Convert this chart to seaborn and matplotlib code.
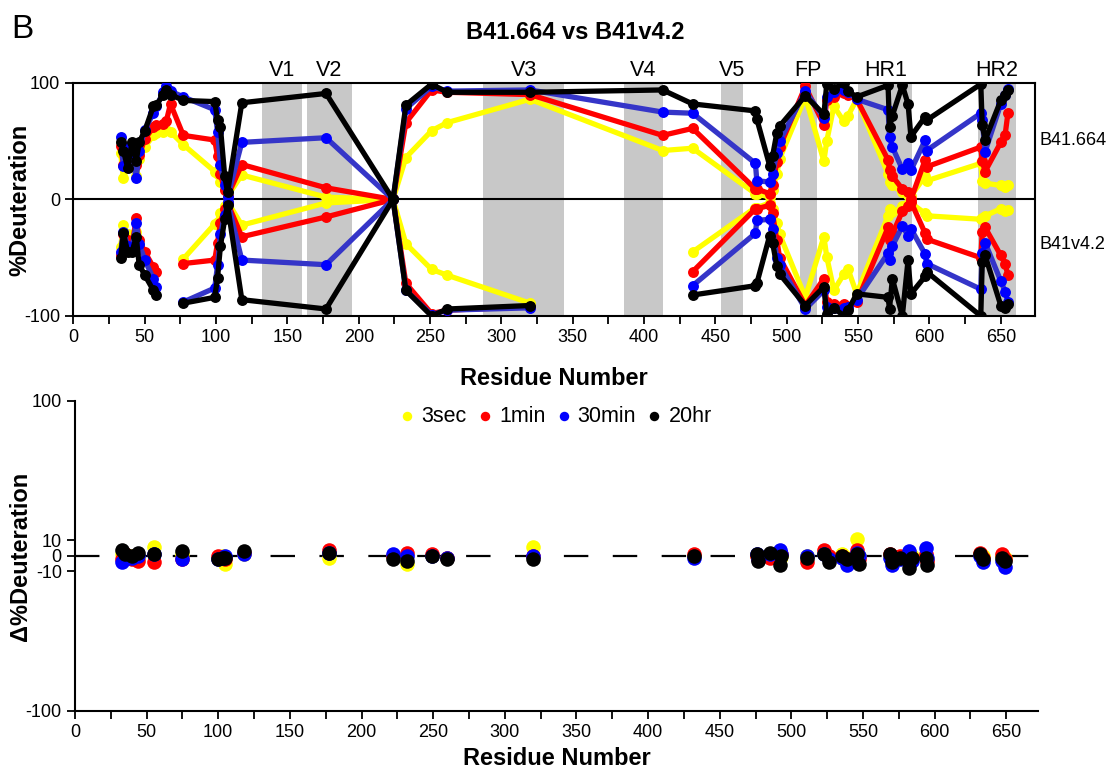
import numpy as np
import pandas as pd
import matplotlib.pyplot as plt
import seaborn as sns

# residue numbers (peptide midpoints) for the butterfly plot
res = [33, 35, 38, 41, 44, 46, 50, 56, 58, 63, 65, 68, 77, 99, 101, 103, 106, 108, 118, 177,
       224, 233, 251, 262, 320, 413, 434, 478, 479, 488, 490, 493, 495, 513, 526, 528, 533, 540,
       543, 549, 571, 572, 574, 581, 585, 587, 597, 598, 636, 637, 639, 650, 653, 655]
nan = np.nan

# B41.664 (upper half)
up_3sec = [40, 18, 30, 36, 20, 35, 45, 55, 57, 58, 60, 58, 47, 24, 22, 15, 8, 3, 21, 2,
           0, 36, 59, 66, 86, 42, 44, 5, 5, 2, 8, 22, 35, 88, 33, 50, 80, 67,
           72, 86, 22, 15, 12, 6, 4, 3, 20, 16, 31, 16, 14, 12, 11, 12]
up_1min = [46, 30, 42, 40, 30, 38, 52, 62, 64, 65, 67, 82, 55, 51, 37, 22, 8, 3, 30, 10,
           0, 66, 94, 92, 90, 55, 61, 9, 9, 5, 12, 32, 45, 97, 64, 85, 88, 91,
           90, 86, 34, 25, 20, 9, 6, 0, 34, 28, 45, 33, 24, 49, 55, 74]
up_30min = [54, 29, 45, 40, 18, 42, 60, 74, 80, 92, 97, 93, 88, 77, 58, 30, 12, 2, 49, 53,
            0, 78, 97, 93, 94, 75, 74, 31, 16, 15, 22, 40, 50, 93, 70, 88, 92, 94,
            92, 86, 77, 54, 45, 26, 31, 25, 51, 42, 74, 68, 41, 82, 90, 95]
up_20hr = [49, 42, 27, 49, 33, 49, 59, 80, 81, 90, 94, 90, 85, 84, 68, 62, 20, 6, 83, 91,
           0, 81, 99, 92, 92, 94, 82, 76, 69, 29, 37, 57, 63, 89, 73, 99, 95, 100,
           93, 88, 98, 62, 72, 98, 82, 54, 71, 68, 99, 64, 51, 85, 90, 94]

# B41v4.2 (lower half)
lo_3sec = [-41, -22, -30, -35, -28, -38, nan, nan, nan, nan, nan, nan, -51, -21, -19, -12, -6, -2, -22, -3,
           0, -38, -60, -65, -89, nan, -45, -7, -7, -3, -8, -20, -30, -84, -32, -49, -78, -64,
           -60, -81, -14, -8, -11, -6, -4, -3, -12, -14, -17, -16, -14, -8, -10, -9]
lo_1min = [-48, -30, -35, -40, -16, -35, -45, -58, -62, nan, nan, nan, -55, -52, -37, -20, -8, -3, -32, -15,
           0, -72, -98, -95, -92, nan, -62, -8, -8, -5, -12, -35, -50, -91, -68, -88, -90, -90,
           -92, -88, -24, -35, -30, -10, -6, -2, -29, -34, -50, -28, -24, -48, -55, -65]
lo_30min = [-45, -28, -40, -42, -20, -38, -52, -68, -75, nan, nan, nan, -88, -76, -56, -30, -13, -2, -52, -56,
            0, -78, -99, -95, -93, nan, -74, -29, -18, -17, -25, -50, -56, -94, -78, -92, -93, -93,
            -92, -86, -46, -52, -40, -23, -31, -25, -47, -55, -77, -46, -37, -70, -79, -88]
lo_20hr = [-50, -29, -45, -45, -32, -56, -65, -78, -82, nan, nan, nan, -89, -84, -67, -40, -17, -5, -86, -94,
           0, -78, -100, -94, -91, nan, -82, -74, -72, -31, -37, -57, -64, -91, -75, -98, -93, -100,
           -95, -81, -84, -94, -68, -100, -52, -81, -66, -62, -100, -54, -48, -91, -93, -90]

# difference plot
d_res = [33, 35, 40, 44, 55, 75, 100, 103, 105, 118, 177, 222, 232, 249, 260, 320, 432, 476, 477,
         485, 492, 493, 511, 523, 526, 535, 539, 546, 547, 569, 570, 576, 582, 584, 594, 595,
         632, 634, 647, 649]
d_3sec = [1, 0, 0, -1, 6, 1, -1, 0, -5, 1, -1, 0, -5, 0, -1, 6, 0, 0, -1,
          0, -2, 0, 0, 2, -1, 1, -1, 11, 0, 0, -1, -1, 1, 0, 0, -2,
          1, 0, 0, -1]
d_1min = [-2, 1, -2, -3, -4, -2, 0, -1, -2, 2, 4, 0, 2, 1, -1, 0, 1, 0, -2,
          -1, 0, 1, -4, 4, 0, 0, -2, 4, -2, 1, -2, 0, -3, -1, 1, -3,
          2, -1, 1, -2]
d_30min = [-4, -2, -1, 0, 1, -2, -2, -1, 0, 1, 2, 1, 0, 0, -1, 0, -1, 1, -2,
           1, 4, 1, 0, 1, -2, -1, -6, 2, 0, -1, -6, -2, 3, -3, 5, -1,
           0, -4, -3, -7]
d_20hr = [4, 1, 0, 2, 1, 3, -2, -1, -1, 3, 2, -2, -3, 0, -2, -2, 0, 1, -3,
          2, -6, 0, -1, 1, -4, 0, -2, 1, -5, 1, -4, -1, -8, -1, -1, -6,
          1, -2, -1, -3]

times = ['3sec', '1min', '30min', '20hr']
line_colors = ['#ffff00', '#ff0000', '#3535c8', '#000000']
dot_colors = ['#ffff00', '#ff0000', '#0000ff', '#000000']

region_names = ['V1', 'V2', 'V3', 'V4', 'V5', 'FP', 'HR1', 'HR2']
region_start = [132, 164, 287, 386, 454, 509, 550, 634]
region_end = [160, 195, 344, 413, 469, 521, 588, 661]

sns.set_style('ticks')
plt.rcParams['font.family'] = ['Liberation Sans', 'DejaVu Sans']
plt.rcParams['axes.unicode_minus'] = False
for k in ('text.color', 'axes.labelcolor', 'xtick.color', 'ytick.color', 'axes.edgecolor'):
    plt.rcParams[k] = 'black'

# long table, split at gaps
rows = []
ups = [up_3sec, up_1min, up_30min, up_20hr]
los = [lo_3sec, lo_1min, lo_30min, lo_20hr]
for t, u, l in zip(times, ups, los):
    for side, vals in (('up', u), ('lo', l)):
        v = pd.Series(vals, dtype=float)
        seg = v.isna().cumsum()
        for r, val, s in zip(res, v, seg):
            if not np.isnan(val):
                rows.append({'time': t, 'side': side, 'res': r, 'val': val, 'seg': f'{side}{s}'})
df = pd.DataFrame(rows)

diff = pd.DataFrame({'res': d_res, '3sec': d_3sec, '1min': d_1min, '30min': d_30min, '20hr': d_20hr})
diff = diff.melt(id_vars='res', var_name='time', value_name='delta')

fig = plt.figure(figsize=(11.17, 7.76), dpi=100)
ax1 = fig.add_axes([0.0658, 0.5928, 0.8608, 0.3003])
ax2 = fig.add_axes([0.0671, 0.0838, 0.862, 0.3995])

# ---- top: butterfly plot ----
for n, s, e in zip(region_names, region_start, region_end):
    ax1.axvspan(s, e, color='#c8c8c8', lw=0, zorder=0)
    ax1.text((s + e) / 2, 1.01, n, transform=ax1.get_xaxis_transform(),
             ha='center', va='bottom', fontsize=15.5)
ax1.axhline(0, color='black', lw=1.5, zorder=1)

z = 2
for t, lc, mc in zip(times, line_colors, dot_colors):
    sub = df[df['time'] == t]
    sns.lineplot(data=sub, x='res', y='val', units='seg', estimator=None, sort=False,
                 color=lc, lw=3.8, ax=ax1, zorder=z)
    sns.scatterplot(data=sub, x='res', y='val', color=mc, s=62, linewidth=0,
                    ax=ax1, zorder=z + 0.5)
    z += 1

ax1.set_xlim(0, 674)
ax1.set_ylim(-100, 100)
ax1.set_yticks([-100, 0, 100])
ax1.set_xticks(range(0, 651, 50))
ax1.set_xticks(range(25, 651, 50), minor=True)
ax1.set_xlabel('Residue Number', fontsize=17, fontweight='bold', labelpad=15)
ax1.set_ylabel('%Deuteration', fontsize=17, fontweight='bold')
ax1.yaxis.set_label_coords(-0.044, 0.5)
ax1.text(1.005, 51, 'B41.664', transform=ax1.get_yaxis_transform(), ha='left', va='center', fontsize=13)
ax1.text(1.005, -39, 'B41v4.2', transform=ax1.get_yaxis_transform(), ha='left', va='center', fontsize=13)

# ---- bottom: difference plot ----
ax2.axhline(0, color='black', lw=1.6, dashes=(11, 11), zorder=1)
for t, mc in zip(times, dot_colors):
    sns.scatterplot(data=diff[diff['time'] == t], x='res', y='delta', color=mc, s=110,
                    linewidth=0, ax=ax2, zorder=3, label=t)
ax2.set_xlim(0, 672)
ax2.set_ylim(-100, 100)
ax2.set_yticks([-100, -10, 0, 10, 100])
ax2.set_xticks(range(0, 651, 50))
ax2.set_xticks(range(25, 651, 50), minor=True)
ax2.set_xlabel('Residue Number', fontsize=17, fontweight='bold', labelpad=4)
ax2.set_ylabel('\u0394%Deuteration', fontsize=17, fontweight='bold')
ax2.yaxis.set_label_coords(-0.045, 0.5)
ax2.legend(loc='upper center', bbox_to_anchor=(0.5, 1.02), borderaxespad=0.1, ncol=4, frameon=False,
           fontsize=15.5, handlelength=0.6, handletextpad=0.35, columnspacing=0.55, markerscale=0.65)
sns.despine(ax=ax2)

for ax in (ax1, ax2):
    ax.tick_params(which='both', direction='out', length=6, width=1.3, labelsize=13)
    for sp in ax.spines.values():
        sp.set_linewidth(1.5)

fig.text(0.515, 0.958, 'B41.664 vs B41v4.2', ha='center', va='center', fontsize=17, fontweight='bold')
fig.text(0.01, 0.962, 'B', ha='left', va='center', fontsize=24)

plt.savefig('out.png', dpi=100)
